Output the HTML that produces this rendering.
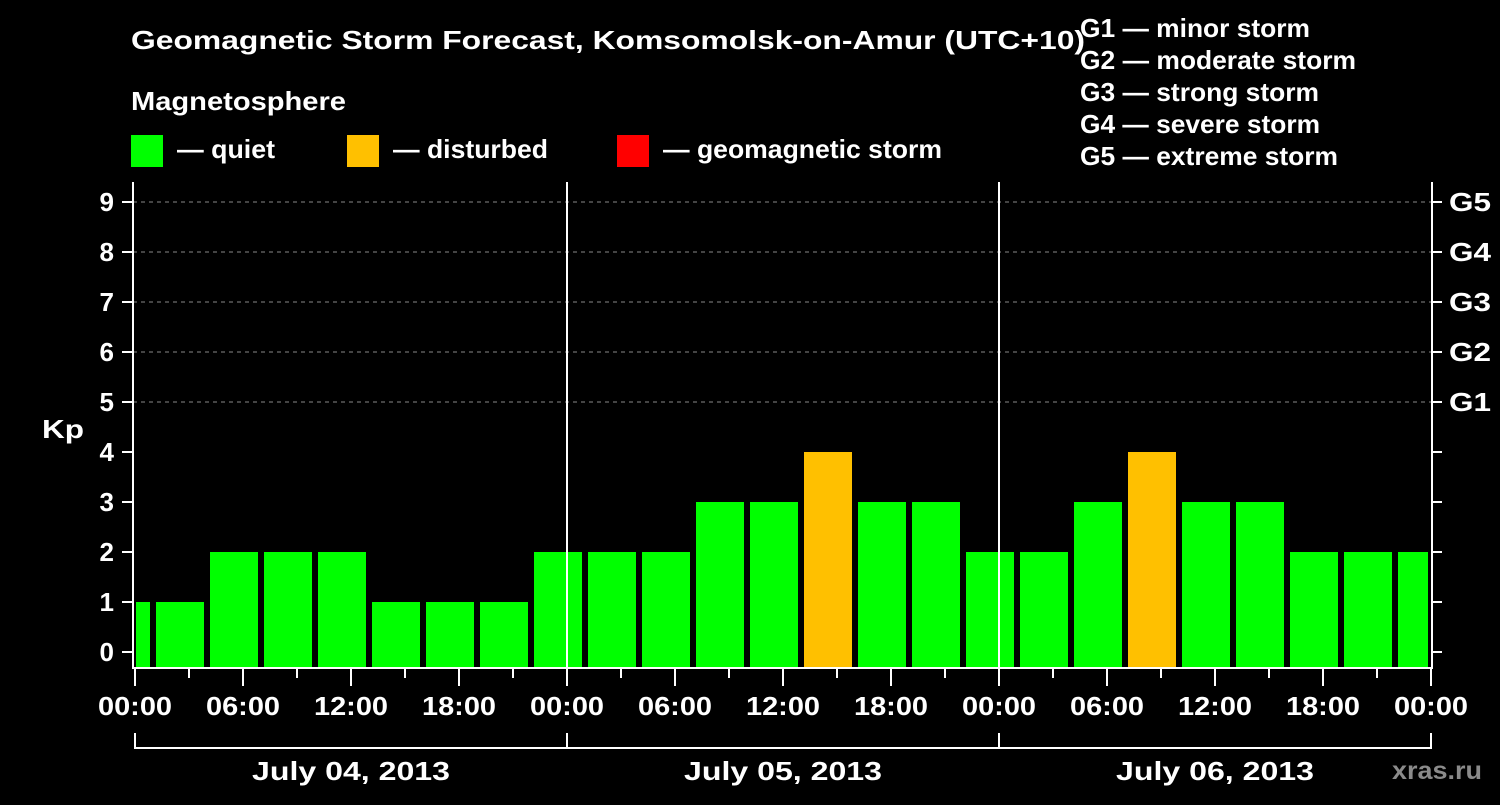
<!DOCTYPE html>
<html><head><meta charset="utf-8"><style>
html,body{margin:0;padding:0;background:#000;}
svg text{font-family:"Liberation Sans",Arial,sans-serif;font-weight:bold;fill:#fff;}
</style></head><body>
<svg id="chart" width="1500" height="800" viewBox="0 0 1500 800" xmlns="http://www.w3.org/2000/svg">
<rect width="1500" height="800" fill="#000"/>
<text x="131" y="49" font-size="26" textLength="954" lengthAdjust="spacingAndGlyphs">Geomagnetic Storm Forecast, Komsomolsk-on-Amur (UTC+10)</text>
<text x="131" y="110" font-size="26" textLength="215" lengthAdjust="spacingAndGlyphs">Magnetosphere</text>
<g>
<rect x="131" y="135" width="32" height="32" fill="#00ff00"/><text x="177" y="158" font-size="26" textLength="98" lengthAdjust="spacingAndGlyphs">— quiet</text></g>
<g>
<rect x="347" y="135" width="32" height="32" fill="#ffc000"/><text x="393" y="158" font-size="26" textLength="155" lengthAdjust="spacingAndGlyphs">— disturbed</text></g>
<g>
<rect x="617" y="135" width="32" height="32" fill="#ff0000"/><text x="663" y="158" font-size="26" textLength="279" lengthAdjust="spacingAndGlyphs">— geomagnetic storm</text></g>
<g font-size="26">
<text x="1080" y="37" textLength="230" lengthAdjust="spacingAndGlyphs">G1 — minor storm</text>
<text x="1080" y="69" textLength="276" lengthAdjust="spacingAndGlyphs">G2 — moderate storm</text>
<text x="1080" y="101" textLength="239" lengthAdjust="spacingAndGlyphs">G3 — strong storm</text>
<text x="1080" y="133" textLength="240" lengthAdjust="spacingAndGlyphs">G4 — severe storm</text>
<text x="1080" y="165" textLength="258" lengthAdjust="spacingAndGlyphs">G5 — extreme storm</text>
</g>
<text x="42" y="438" font-size="26" textLength="42" lengthAdjust="spacingAndGlyphs">Kp</text>
<text x="1392" y="779" font-size="25" style="fill:#8a8a8a" textLength="90" lengthAdjust="spacingAndGlyphs">xras.ru</text>
<g id="grid"></g><g id="bars"></g><g id="axes"></g>
</svg>
<script>
const kpValues=[1,1,2,2,2,1,1,1,2,2,2,3,3,4,3,3,2,2,3,4,3,3,2,2,2];
const startHour=-2;
const yTicks=[0,1,2,3,4,5,6,7,8,9];
const gLabels=["G1","G2","G3","G4","G5"];
const xTickLabels=["00:00","06:00","12:00","18:00","00:00","06:00","12:00","18:00","00:00","06:00","12:00","18:00","00:00"];
const dayLabels=["July 04, 2013","July 05, 2013","July 06, 2013"];
const NS="http://www.w3.org/2000/svg";
const X0=135,PXH=18,PL=133,PR=1432,PT=182,PB=668;
const xs=h=>X0+h*PXH;
const ys=v=>652-v*50;
function mk(p,tag,a){const e=document.createElementNS(NS,tag);for(const k in a)e.setAttribute(k,a[k]);p.appendChild(e);return e;}
const grid=document.getElementById('grid'),bars=document.getElementById('bars'),axes=document.getElementById('axes');
[5,6,7,8,9].forEach(v=>{const l=mk(grid,'line',{x1:PL,x2:PR,y1:ys(v),y2:ys(v),stroke:'#888','stroke-dasharray':'4,4','stroke-width':1});

});
kpValues.forEach((v,i)=>{let a=xs(startHour+3*i)+3,b=a+48;a=Math.max(a,136);b=Math.min(b,1428);
const c=v>=5?'#ff0000':(v>=4?'#ffc000':'#00ff00');
const r=mk(bars,'rect',{x:a,y:ys(v),width:b-a,height:PB-ys(v),fill:c});

});
[1,2].forEach(d=>{const l=mk(axes,'line',{x1:xs(24*d),x2:xs(24*d),y1:PT,y2:PB,stroke:'#fff','stroke-width':2});

});
const frame=mk(axes,'path',{d:`M${PL} ${PT}V${PB}H${PR}V${PT}`,fill:'none',stroke:'#fff','stroke-width':2});


yTicks.forEach(v=>{const y=ys(v);
mk(axes,'line',{x1:122,x2:PL,y1:y,y2:y,stroke:'#fff','stroke-width':2});
mk(axes,'line',{x1:PR,x2:1442,y1:y,y2:y,stroke:'#fff','stroke-width':2});
const t=mk(axes,'text',{x:114,y:y+9,'text-anchor':'end','font-size':26});t.textContent=v;


if(v>=5){const g=mk(axes,'text',{x:1449,y:y+9,'font-size':26,textLength:42,lengthAdjust:'spacingAndGlyphs'});g.textContent=gLabels[v-5];

}});
for(let h=0;h<=72;h+=3){const x=xs(h),maj=h%6===0;
mk(axes,'line',{x1:x,x2:x,y1:PB,y2:maj?686:678,stroke:'#fff','stroke-width':2});
if(maj){const t=mk(axes,'text',{x:x,y:715,'text-anchor':'middle','font-size':26,textLength:74,lengthAdjust:'spacingAndGlyphs'});t.textContent=xTickLabels[h/6];

}}
mk(axes,'path',{d:`M${xs(0)} 733V748H${xs(72)}V733`,fill:'none',stroke:'#fff','stroke-width':2});
[1,2].forEach(d=>mk(axes,'line',{x1:xs(24*d),x2:xs(24*d),y1:733,y2:748,stroke:'#fff','stroke-width':2}));
dayLabels.forEach((s,i)=>{const t=mk(axes,'text',{x:xs(24*i+12),y:780,'text-anchor':'middle','font-size':26,textLength:198,lengthAdjust:'spacingAndGlyphs'});t.textContent=s;

});
</script>
</body></html>
